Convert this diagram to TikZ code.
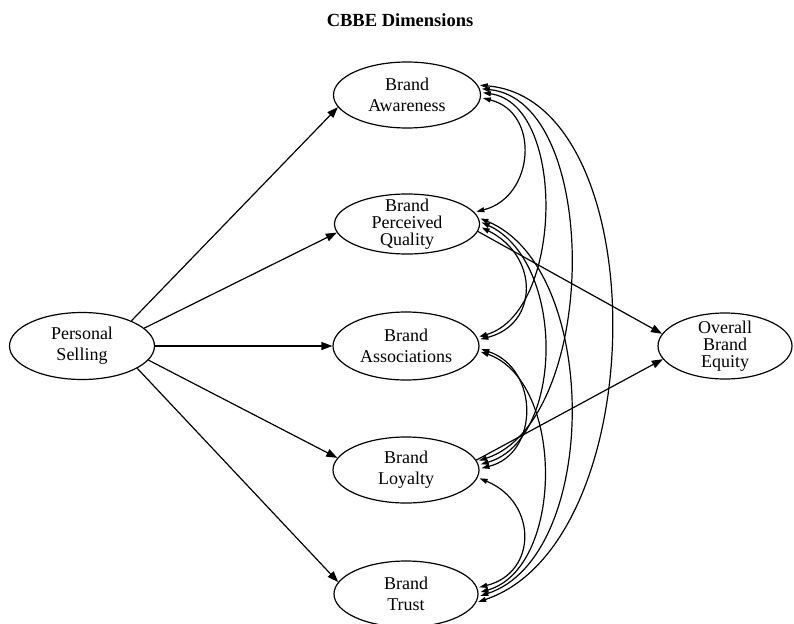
\documentclass[tikz,border=0pt]{standalone}
\usepackage{fontspec}
\setmainfont{Liberation Serif}
\usetikzlibrary{arrows.meta,shapes.geometric}
\begin{document}
\begin{tikzpicture}[x=1pt,y=-1pt,
  var/.style={draw, ellipse, line width=1.2pt, inner sep=0pt, minimum width=146pt, minimum height=66pt},
  lbl/.style={align=center, inner sep=0pt, font=\fontsize{18}{21}\selectfont},
  lblthree/.style={align=center, inner sep=0pt, font=\fontsize{18}{17}\selectfont},
  reg/.style={line width=1.2pt, -{Triangle[length=11pt,width=8pt]}},
  cov/.style={line width=1.2pt, {Triangle[length=8pt,width=5pt]}-{Triangle[length=8pt,width=5pt]}, shorten <=2pt, shorten >=2pt}
]
\useasboundingbox (0,0) rectangle (794,623);
\node[font=\fontsize{18.5}{21}\selectfont\bfseries] (title) at (400,20) {CBBE Dimensions};

\node[var, minimum height=67pt, minimum width=145pt] (PS) at (82,346) {};
\node[lbl] (PSt) at (PS) {Personal\\Selling};
\node[var, minimum width=147pt] (A) at (407,95) {};
\node[lbl] (At) at (A) {Brand\\Awareness};
\node[var, minimum width=145pt, minimum height=60pt] (PQ) at (407,224) {};
\node[lblthree] (PQt) at (PQ) {Brand\\Perceived\\Quality};
\node[var, minimum height=68pt] (As) at (406,346) {};
\node[lbl] (Ast) at (As) {Brand\\Associations};
\node[var] (L) at (406,470) {};
\node[lbl] (Lt) at (L) {Brand\\Loyalty};
\node[var, minimum width=144pt] (T) at (406,594) {};
\node[lbl] (Tt) at (T) {Brand\\Trust};
\node[var, minimum width=134pt] (OBE) at (725,346) {};
\node[lblthree] (OBEt) at (OBE) {Overall\\Brand\\Equity};

\draw[reg] (PS.27) -- (A.190);
\draw[reg] (PS.16) -- (PQ.187);
\draw[reg] (PS.0) -- (As.180);
\draw[reg] (PS.-12) -- (L.170);
\draw[reg] (PS.-22) -- (T.170);
\draw[reg] (PQ.-6) -- (OBE.169);
\draw[reg] (L.8) -- (OBE.192);

\draw[cov] (A.-2) .. controls +(60,15) and +(60,-15) .. (PQ.10);
\draw[cov] (A.2) .. controls +(86,12) and +(86,-25) .. (As.7);
\draw[cov] (A.5) .. controls +(122,12) and +(122,-40) .. (L.7);
\draw[cov] (A.8) .. controls +(178,15) and +(178,-60) .. (T.-7);
\draw[cov] (PQ.-2) .. controls +(60,30) and +(60,-15) .. (As.5);
\draw[cov] (PQ.2) .. controls +(86,40) and +(86,-25) .. (L.4);
\draw[cov] (PQ.5) .. controls +(122,50) and +(122,-40) .. (T.-2);
\draw[cov] (As.-2) .. controls +(60,20) and +(60,-15) .. (L.1);
\draw[cov] (As.-4) .. controls +(86,30) and +(86,-25) .. (T.1);
\draw[cov] (L.-6) .. controls +(60,25) and +(60,-15) .. (T.5);
\end{tikzpicture}
\end{document}
